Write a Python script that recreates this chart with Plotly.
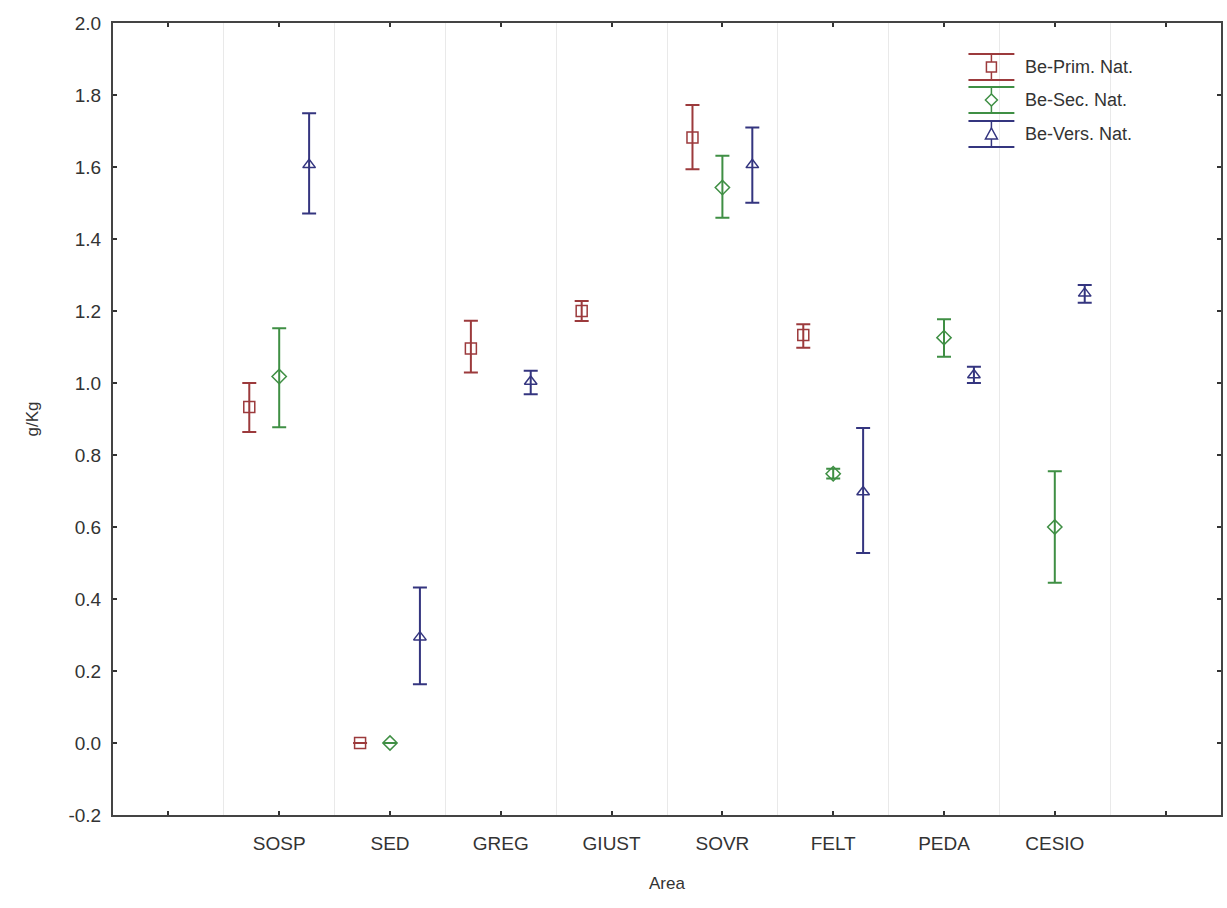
import plotly.graph_objects as go

# Sampling areas (first and last slots are empty on the category axis)
areas = ["SOSP", "SED", "GREG", "GIUST", "SOVR", "FELT", "PEDA", "CESIO"]
tick_labels = [""] + areas + [""]

# y axis ticks, written with a plain hyphen for the negative value
y_ticks = [-0.2, 0.0, 0.2, 0.4, 0.6, 0.8, 1.0, 1.2, 1.4, 1.6, 1.8, 2.0]
y_tick_labels = ["-0.2", "0.0", "0.2", "0.4", "0.6", "0.8",
                 "1.0", "1.2", "1.4", "1.6", "1.8", "2.0"]

# Be concentration, g/Kg: mean with lower / upper confidence limits
prim_mean = [0.933, 0.0, 1.096, 1.200, 1.682, 1.133, None, None]
prim_low = [0.864, 0.0, 1.029, 1.172, 1.594, 1.098, None, None]
prim_high = [1.000, 0.0, 1.173, 1.228, 1.772, 1.163, None, None]

sec_mean = [1.018, 0.0, None, None, 1.543, 0.748, 1.126, 0.600]
sec_low = [0.877, 0.0, None, None, 1.459, 0.735, 1.073, 0.445]
sec_high = [1.152, 0.0, None, None, 1.631, 0.762, 1.177, 0.755]

vers_mean = [1.606, 0.294, 1.004, None, 1.606, 0.697, 1.022, 1.249]
vers_low = [1.471, 0.163, 0.969, None, 1.501, 0.528, 1.000, 1.223]
vers_high = [1.749, 0.432, 1.034, None, 1.710, 0.875, 1.045, 1.272]

series = [
    ("Be-Prim. Nat.", prim_mean, prim_low, prim_high, "#9c3a3c", "square-open", -0.27),
    ("Be-Sec. Nat.", sec_mean, sec_low, sec_high, "#3f8f44", "diamond-open", 0.0),
    ("Be-Vers. Nat.", vers_mean, vers_low, vers_high, "#34357f", "triangle-up-open", 0.27),
]

W, H = 1227, 908
L, R, T, B = 113, 1223, 23, 815  # plot area in pixels

fig = go.Figure()
for name, mean, low, high, color, symbol, off in series:
    xs, ys, up, dn = [], [], [], []
    for i, (m, lo, hi) in enumerate(zip(mean, low, high)):
        if m is None:
            continue
        xs.append(i + 1 + off)
        ys.append(m)
        up.append(hi - m)
        dn.append(m - lo)
    fig.add_trace(go.Scatter(
        x=xs, y=ys, mode="markers", name=name, showlegend=False,
        marker=dict(symbol=symbol, size=11, color=color,
                    line=dict(width=1.5, color=color)),
        error_y=dict(type="data", symmetric=False, array=up, arrayminus=dn,
                     color=color, thickness=2, width=7),
    ))


def px_x(p):
    return (p - L) / (R - L)


def px_y(p):
    return (B - p) / (B - T)


# Legend drawn as error-bar glyphs with labels
shapes = []
annotations = []
glyph_x0, glyph_x1 = 970, 1016
gx = (glyph_x0 + glyph_x1) / 2
centers = [67, 100, 134]
for (name, _, _, _, color, symbol, _), cy in zip(series, centers):
    top, bot = cy - 13, cy + 13
    for yy in (top, bot):
        shapes.append(dict(type="line", xref="paper", yref="paper",
                           x0=px_x(glyph_x0), x1=px_x(glyph_x1),
                           y0=px_y(yy), y1=px_y(yy),
                           line=dict(color=color, width=2)))
    shapes.append(dict(type="line", xref="paper", yref="paper",
                       x0=px_x(gx), x1=px_x(gx), y0=px_y(top), y1=px_y(bot),
                       line=dict(color=color, width=1.5)))
    s = 5
    if symbol.startswith("square"):
        pts = [(gx - s, cy - s), (gx + s, cy - s), (gx + s, cy + s), (gx - s, cy + s)]
    elif symbol.startswith("diamond"):
        pts = [(gx, cy - 6), (gx + 6, cy), (gx, cy + 6), (gx - 6, cy)]
    else:
        pts = [(gx, cy - 6), (gx + 6, cy + 5), (gx - 6, cy + 5)]
    path = "M " + " L ".join(f"{px_x(a):.5f},{px_y(b):.5f}" for a, b in pts) + " Z"
    shapes.append(dict(type="path", xref="paper", yref="paper", path=path,
                       fillcolor="white", line=dict(color=color, width=1.5)))
    annotations.append(dict(text=name, xref="paper", yref="paper",
                            x=px_x(1025), y=px_y(cy), xanchor="left",
                            yanchor="middle", showarrow=False,
                            font=dict(size=18, color="#333333")))

axis_font = dict(family="Liberation Sans, Arial, sans-serif", size=19, color="#333333")

fig.update_layout(
    width=W, height=H,
    margin=dict(l=L, r=W - R, t=T, b=H - B),
    paper_bgcolor="white", plot_bgcolor="white",
    font=dict(family="Liberation Sans, Arial, sans-serif", color="#333333"),
    shapes=shapes, annotations=annotations,
    xaxis=dict(
        range=[-0.5, 9.5], tickmode="array", tickvals=list(range(10)),
        ticktext=tick_labels, tickfont=axis_font, ticklabelstandoff=10,
        ticks="inside", ticklen=4, tickwidth=1.5, tickcolor="#333333",
        showline=True, linecolor="#444444", linewidth=2, mirror="allticks",
        showgrid=False, zeroline=False,
        minor=dict(tickmode="linear", tick0=0.5, dtick=1, showgrid=True,
                   gridcolor="#e9e9e9", gridwidth=1, ticks=""),
        title=dict(text="Area", font=dict(size=17, color="#333333"), standoff=24),
    ),
    yaxis=dict(
        range=[-0.2, 2.0], tickmode="array", tickvals=y_ticks,
        ticktext=y_tick_labels, tickfont=axis_font, ticklabelstandoff=6,
        ticks="inside", ticklen=4, tickwidth=1.5, tickcolor="#333333",
        showline=True, linecolor="#444444", linewidth=2, mirror="allticks",
        showgrid=False, zeroline=False,
        title=dict(text="g/Kg", font=dict(size=17, color="#333333"), standoff=26),
    ),
)

fig.write_html("out.html")
